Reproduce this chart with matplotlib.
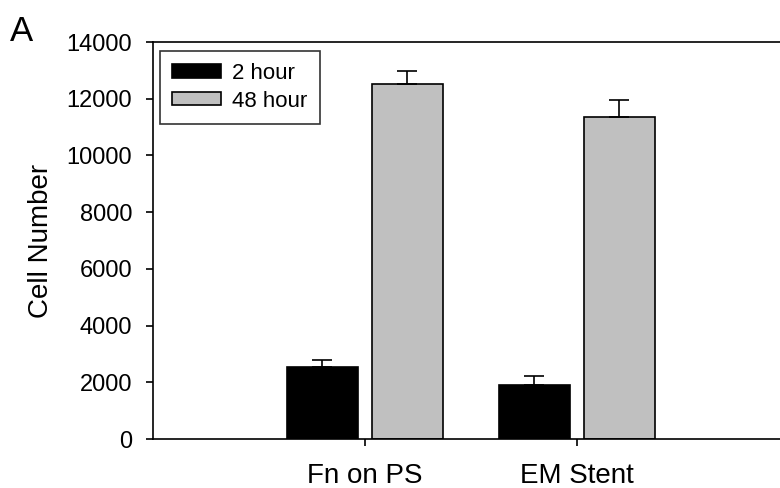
import matplotlib.pyplot as plt
import numpy as np

plt.rcParams['font.family'] = ['Liberation Sans', 'DejaVu Sans']

categories = ["Fn on PS", "EM Stent"]
hour2 = [2530, 1900]
hour2_err = [270, 320]
hour48 = [12520, 11350]
hour48_err = [470, 600]
yticks = [0, 2000, 4000, 6000, 8000, 10000, 12000, 14000]

fig = plt.figure(figsize=(7.8, 4.88), dpi=100)
ax = fig.add_axes([0.196, 0.1004, 0.8154, 0.8135])

x = np.arange(len(categories))
w = 0.335
ax.bar(x - 0.2, hour2, w, color="black", edgecolor="black", linewidth=1.2, label="2 hour",
       yerr=[[0, 0], hour2_err], error_kw=dict(capsize=7, elinewidth=1.2, capthick=1.2, ecolor="black"))
ax.bar(x + 0.2, hour48, w, color="#c0c0c0", edgecolor="black", linewidth=1.2, label="48 hour",
       yerr=[[0, 0], hour48_err], error_kw=dict(capsize=7, elinewidth=1.2, capthick=1.2, ecolor="black"))

ax.set_xlim(-1, 2)
ax.set_ylim(0, 14000)
ax.set_xticks(x)
ax.set_xticklabels(categories, fontsize=20)
ax.set_yticks(yticks)
ax.set_yticklabels([str(t) for t in yticks], fontsize=17)
ax.tick_params(axis="both", direction="out", length=5, width=1.2)
ax.tick_params(axis="x", pad=12)
ax.tick_params(axis="y", pad=10)
ax.set_ylabel("Cell Number", fontsize=20, labelpad=9)
for s in ax.spines.values():
    s.set_linewidth(1.2)

leg = ax.legend(loc="upper left", fontsize=16, frameon=True, fancybox=False, edgecolor="black",
                handlelength=2.2, handleheight=0.54, handletextpad=0.5, borderpad=0.55,
                labelspacing=0.3, borderaxespad=0, bbox_to_anchor=(0.011, 0.978))
leg.get_frame().set_linewidth(1.2)

fig.text(0.013, 0.915, "A", fontsize=25)

fig.savefig("out.png", dpi=100)
